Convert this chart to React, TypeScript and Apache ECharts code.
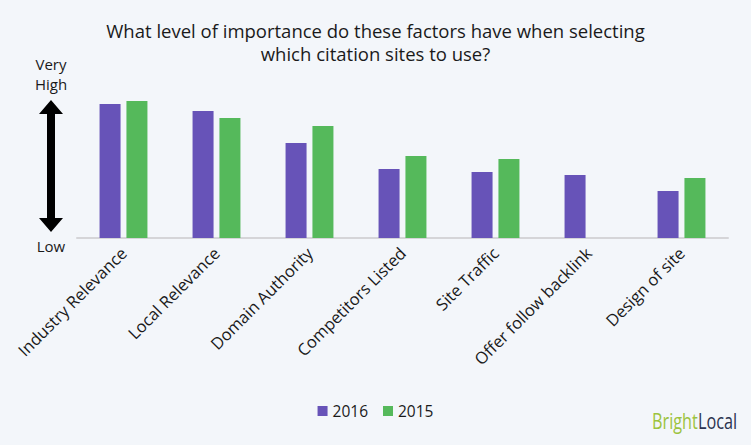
import React, { useEffect, useRef } from "react";
import * as echarts from "echarts";

const categories = [
  "Industry Relevance",
  "Local Relevance",
  "Domain Authority",
  "Competitors Listed",
  "Site Traffic",
  "Offer follow backlink",
  "Design of site",
];
const values2016: (number | string)[] = [134, 127, 95, 69, 66, 63, 47];
const values2015: (number | string)[] = [137, 120, 112, 82, 79, "-", 60];
const seriesNames = ["2016", "2015"];
const titleText = "What level of importance do these factors have when selecting\nwhich citation sites to use?";

export default function App() {
  const ref = useRef<HTMLDivElement>(null);
  useEffect(() => {
    const chart = echarts.init(ref.current!, null, { renderer: "svg" });
    const font = "'Open Sans', Lato, sans-serif";
    chart.setOption({
      animation: false,
      backgroundColor: "#f3f6fa",
      textStyle: { fontFamily: font },
      title: {
        text: titleText,
        left: "center",
        top: 14,
        textStyle: { fontSize: 18.5, fontWeight: "normal", color: "#1a1a1a", lineHeight: 23, fontFamily: font },
      },
      legend: {
        data: seriesNames,
        bottom: 21,
        left: "center",
        itemWidth: 10,
        itemHeight: 10,
        itemGap: 15,
        icon: "rect",
        textStyle: { fontSize: 15.5, color: "#1a1a1a", fontFamily: font },
      },
      grid: { left: 77, right: 23, top: 98, bottom: 207, containLabel: false },
      xAxis: {
        type: "category",
        data: categories,
        axisLine: { lineStyle: { color: "#d5d5d8", width: 2 } },
        axisTick: { show: false },
        axisLabel: { interval: 0, rotate: 45, fontSize: 16.5, color: "#1a1a1a", margin: 12, fontFamily: font },
      },
      yAxis: {
        type: "value",
        min: 0,
        max: 140,
        show: false,
        splitLine: { show: false },
      },
      series: [
        { name: seriesNames[0], type: "bar", data: values2016, barWidth: 21, barGap: "28%", itemStyle: { color: "#6753b8" } },
        { name: seriesNames[1], type: "bar", data: values2015, barWidth: 21, barGap: "28%", itemStyle: { color: "#55b95b" } },
      ],
      graphic: [
        {
          type: "text",
          x: 51,
          y: 74,
          style: { text: "Very\nHigh", font: "15px " + font, fill: "#1a1a1a", align: "center", verticalAlign: "middle", lineHeight: 20 },
        },
        {
          type: "text",
          x: 51,
          y: 246,
          style: { text: "Low", font: "15px " + font, fill: "#1a1a1a", align: "center", verticalAlign: "middle" },
        },
        {
          type: "polygon",
          shape: {
            points: [
              [51, 100], [63, 114], [55, 114], [55, 218], [63, 218],
              [51, 232], [39, 218], [47, 218], [47, 114], [39, 114],
            ],
          },
          style: { fill: "#000" },
        },
        {
          type: "text",
          x: 652,
          y: 420,
          scaleX: 0.74,
          style: {
            text: "{a|Bright}{b|Local}",
            verticalAlign: "middle",
            rich: {
              a: { fontSize: 22, fill: "#9cc33d", fontFamily: font },
              b: { fontSize: 22, fill: "#2b3350", fontFamily: font },
            },
          },
        },
      ],
    });
    return () => chart.dispose();
  }, []);
  return <div ref={ref} style={{ position: "absolute", left: 0, top: 0, width: 751, height: 445 }} />;
}
